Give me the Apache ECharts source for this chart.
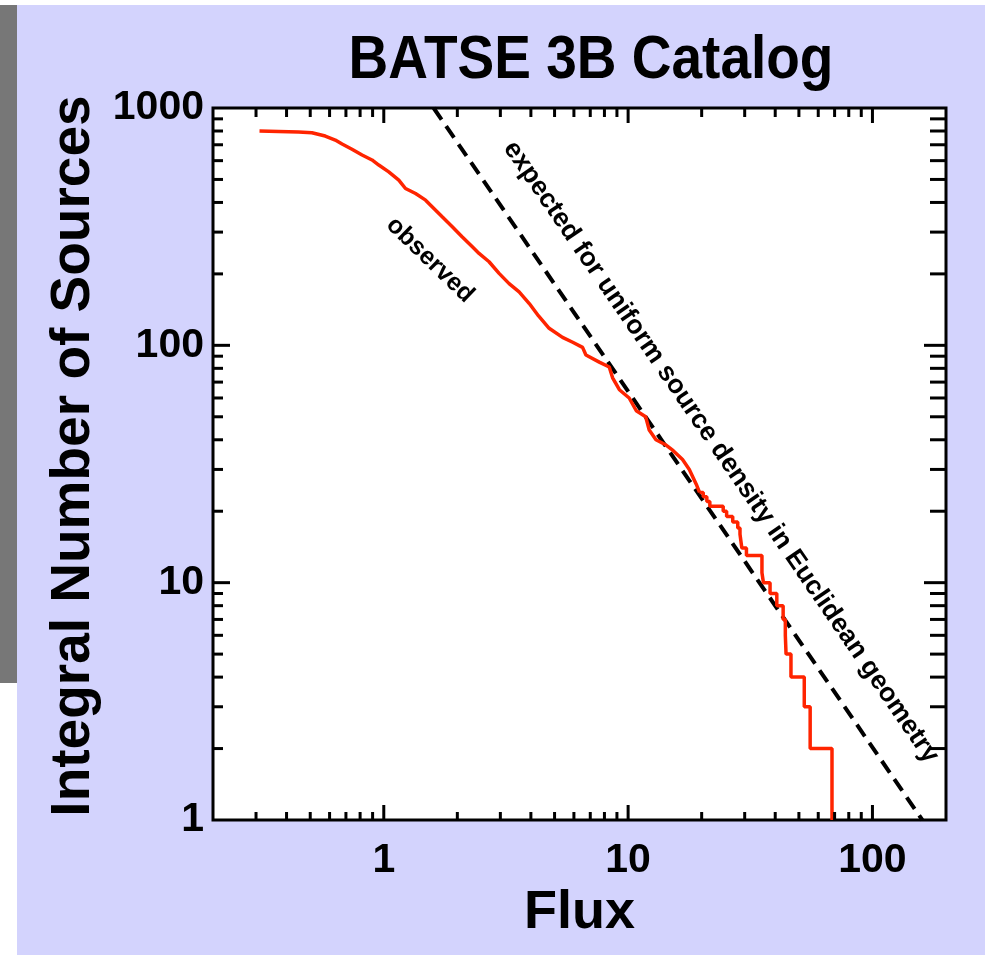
<!DOCTYPE html>
<html>
<head>
<meta charset="utf-8">
<script src="https://cdn.jsdelivr.net/npm/echarts@6/dist/echarts.min.js"></script>
<style>
  html, body { margin: 0; padding: 0; background: #ffffff; }
  #strip { position: absolute; left: 0; top: 5px; width: 17px; height: 678px; background: #777777; }
  #panel { position: absolute; left: 17px; top: 5px; width: 968px; height: 950px; background: #d3d3fd; }
  #chart { position: absolute; left: 0; top: 0; width: 988px; height: 955px; }
</style>
</head>
<body>
<div id="strip"></div>
<div id="panel"></div>
<div id="chart"></div>
<script>
// observed integral counts N(>S), smooth part
const obsFlux = [0.31, 0.371, 0.448, 0.508, 0.576, 0.633, 0.675, 0.741, 0.815, 0.895, 0.954, 1.048,
  1.152, 1.227, 1.349, 1.483, 1.630, 1.734, 1.907, 2.096, 2.304, 2.454, 2.697, 2.964, 3.258, 3.58,
  3.94, 4.3, 4.75, 5.39, 5.93, 6.51, 6.72, 7.62, 8.37, 8.64, 9.21, 10.1, 10.8, 11.8, 12.2, 13.0,
  14.3, 15.3, 16.7, 17.8, 19.0, 19.6];
const obsCount = [800, 797, 792, 787, 762, 733, 705, 670, 634, 604, 575, 538,
  497, 458, 436, 409, 371, 348, 316, 286, 260, 244, 225, 201, 182, 168,
  150, 133, 118, 108, 103, 98, 91, 85, 81, 73, 65, 60, 53, 50, 44, 40,
  38, 36, 33, 30, 26, 24];

// stepped tail (flux where the count drops, count after the drop)
const tailFlux = [19.6, 20.3, 21.0, 21.6, 24.5, 25.3, 26.8, 28.1, 28.7, 29.2, 30.5, 35.3, 35.8,
  38.1, 40.6, 43.1, 44.0, 44.3, 46.4, 52.6, 55.6, 68.3];
const tailCount = [24, 23, 22, 21, 20, 19, 18, 17, 16, 14, 13, 11, 10, 9, 8, 7, 6, 5, 4, 3, 2, 1];

// Euclidean expectation, N ~ S^-3/2
const expFlux = [1.6, 160];
const expCount = [1000, 1];

const xRange = [0.2, 200];
const yRange = [1, 1000];
const xLabels = [1, 10, 100];
const yLabels = [1, 10, 100, 1000];
const xMajor = [1, 10, 100];
const xMinor = [0.3, 0.4, 0.5, 0.6, 0.7, 0.8, 0.9, 2, 3, 4, 5, 6, 7, 8, 9, 20, 30, 40, 50, 60, 70, 80, 90];
const yMajor = [10, 100];
const yMinor = [2, 3, 4, 5, 6, 7, 8, 9, 20, 30, 40, 50, 60, 70, 80, 90, 200, 300, 400, 500, 600, 700, 800, 900];

const FONT = '"Liberation Sans", Arial, Helvetica, sans-serif';
const RED = '#ff2400';

const zip = (a, b) => a.map((v, i) => [v, b[i]]);
const isLabel = (list) => (v) => {
  const hit = list.find((t) => Math.abs(t - v) / t < 1e-6);
  return hit === undefined ? '' : String(hit);
};

const xTickData = xMajor.map((v) => [v, yRange[0], 1]).concat(xMinor.map((v) => [v, yRange[0], 0]));
const yTickData = yMajor.map((v) => [xRange[0], v, 1]).concat(yMinor.map((v) => [xRange[0], v, 0]));

const tickStyle = { stroke: '#000', lineWidth: 3 };

function renderXTick(params, api) {
  const cs = params.coordSys;
  const x = api.coord([api.value(0), yRange[0]])[0];
  const major = api.value(2) === 1;
  const lb = major ? 15 : 8;
  const lt = major ? 15 : 9;
  const bottom = cs.y + cs.height;
  return {
    type: 'group',
    children: [
      { type: 'line', shape: { x1: x, y1: bottom, x2: x, y2: bottom - lb }, style: tickStyle },
      { type: 'line', shape: { x1: x, y1: cs.y, x2: x, y2: cs.y + lt }, style: tickStyle },
    ],
  };
}

function renderYTick(params, api) {
  const cs = params.coordSys;
  const y = api.coord([xRange[0], api.value(1)])[1];
  const major = api.value(2) === 1;
  const ll = major ? 17 : 10;
  const lr = major ? 22 : 16;
  const right = cs.x + cs.width;
  return {
    type: 'group',
    children: [
      { type: 'line', shape: { x1: cs.x, y1: y, x2: cs.x + ll, y2: y }, style: tickStyle },
      { type: 'line', shape: { x1: right, y1: y, x2: right - lr, y2: y }, style: tickStyle },
    ],
  };
}

const chart = echarts.init(document.getElementById('chart'), null, { renderer: 'canvas' });
chart.setOption({
  backgroundColor: 'transparent',
  animation: false,
  textStyle: { fontFamily: FONT },
  grid: {
    left: 213, top: 108, right: 42, bottom: 135,
    show: true, backgroundColor: '#ffffff', borderColor: '#000000', borderWidth: 3,
  },
  xAxis: {
    type: 'log', logBase: 10, min: xRange[0], max: xRange[1],
    name: 'Flux', nameLocation: 'middle', nameGap: 50,
    nameTextStyle: { fontFamily: FONT, fontWeight: 'bold', fontSize: 54, color: '#000' },
    axisLine: { show: false }, axisTick: { show: false }, splitLine: { show: false },
    axisLabel: {
      margin: 20, fontFamily: FONT, fontWeight: 'bold', fontSize: 41, color: '#000',
      showMinLabel: true, showMaxLabel: true, hideOverlap: false,
      formatter: isLabel(xLabels),
    },
  },
  yAxis: {
    type: 'log', logBase: 10, min: yRange[0], max: yRange[1],
    name: 'Integral Number of Sources', nameLocation: 'middle', nameGap: 112, nameRotate: 90,
    nameTextStyle: { fontFamily: FONT, fontWeight: 'bold', fontSize: 55, color: '#000', padding: [0, 0, 0, 16] },
    axisLine: { show: false }, axisTick: { show: false }, splitLine: { show: false },
    axisLabel: {
      margin: 9, fontFamily: FONT, fontWeight: 'bold', fontSize: 41, color: '#000',
      showMinLabel: true, showMaxLabel: true, hideOverlap: false,
      formatter: isLabel(yLabels),
    },
  },
  graphic: [
    {
      type: 'text', x: 591, y: 61, scaleY: 1.12,
      style: { text: 'BATSE 3B Catalog', font: 'bold 55px ' + FONT, fill: '#000', align: 'center', verticalAlign: 'middle' },
    },
    {
      type: 'text', x: 430, y: 260, rotation: -44 * Math.PI / 180,
      style: { text: 'observed', font: 'bold 25px ' + FONT, fill: '#000', align: 'center', verticalAlign: 'middle' },
    },
    {
      type: 'text', x: 721, y: 452, rotation: -55.5 * Math.PI / 180,
      style: {
        text: 'expected for uniform source density in Euclidean geometry',
        font: 'bold 26.5px ' + FONT, fill: '#000', align: 'center', verticalAlign: 'middle',
      },
    },
  ],
  series: [
    {
      name: 'expected', type: 'line', data: zip(expFlux, expCount), showSymbol: false, z: 3,
      lineStyle: { color: '#000', width: 4, type: [14, 8] },
    },
    {
      name: 'observed', type: 'line', data: zip(obsFlux, obsCount), showSymbol: false, z: 4,
      lineStyle: { color: RED, width: 3.5 },
    },
    {
      name: 'observed tail', type: 'line', step: 'end', data: zip(tailFlux, tailCount), showSymbol: false, z: 4,
      lineStyle: { color: RED, width: 3.5 },
    },
    { type: 'custom', data: xTickData, renderItem: renderXTick, encode: { x: 0, y: 1 }, clip: false, z: 5, silent: true },
    { type: 'custom', data: yTickData, renderItem: renderYTick, encode: { x: 0, y: 1 }, clip: false, z: 5, silent: true },
  ],
});
</script>
</body>
</html>
